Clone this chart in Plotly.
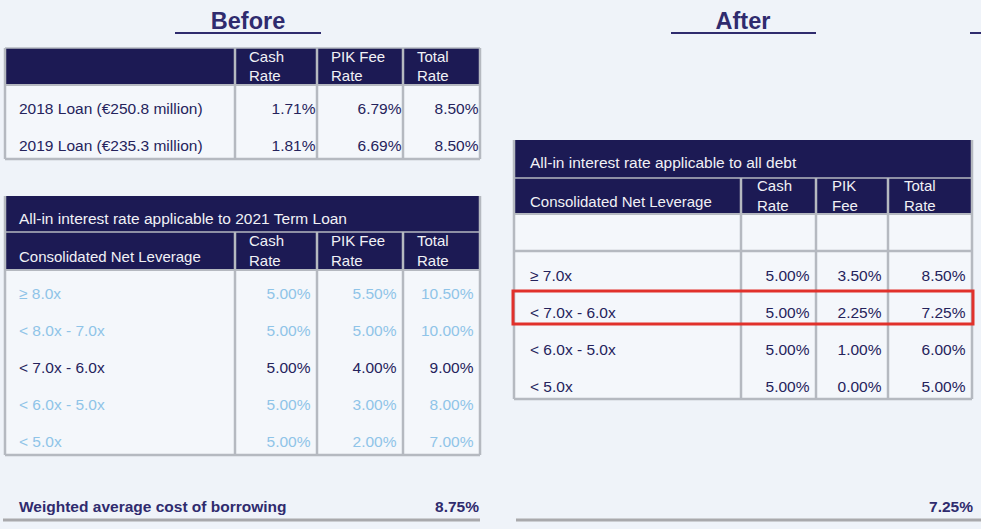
import plotly.graph_objects as go

W, H = 981, 529

# ---------------- data ----------------
loan_headers = ["", "Cash\nRate", "PIK Fee\nRate", "Total\nRate"]
loan_labels = ["2018 Loan (€250.8 million)", "2019 Loan (€235.3 million)"]
loan_cash = ["1.71%", "1.81%"]
loan_pik = ["6.79%", "6.69%"]
loan_total = ["8.50%", "8.50%"]

before_title = "All-in interest rate applicable to 2021 Term Loan"
before_headers = ["Consolidated Net Leverage", "Cash\nRate", "PIK Fee\nRate", "Total\nRate"]
before_lev = ["≥ 8.0x", "< 8.0x - 7.0x", "< 7.0x - 6.0x", "< 6.0x - 5.0x", "< 5.0x"]
before_cash = ["5.00%", "5.00%", "5.00%", "5.00%", "5.00%"]
before_pik = ["5.50%", "5.00%", "4.00%", "3.00%", "2.00%"]
before_total = ["10.50%", "10.00%", "9.00%", "8.00%", "7.00%"]
before_active = 2

after_title = "All-in interest rate applicable to all debt"
after_headers = ["Consolidated Net Leverage", "Cash\nRate", "PIK\nFee", "Total\nRate"]
after_lev = ["", "≥ 7.0x", "< 7.0x - 6.0x", "< 6.0x - 5.0x", "< 5.0x"]
after_cash = ["", "5.00%", "5.00%", "5.00%", "5.00%"]
after_pik = ["", "3.50%", "2.25%", "1.00%", "0.00%"]
after_total = ["", "8.50%", "7.25%", "6.00%", "5.00%"]
after_highlight = 2

wacb_label = "Weighted average cost of borrowing"
wacb_before = "8.75%"
wacb_after = "7.25%"

# ---------------- style ----------------
BG = "#eff3f9"
CELL = "#f4f7fb"
NAVY = "#1c1a54"
GRID = "#b5b9c0"
DARK = "#25235c"
LIGHT = "#8fc4e8"
HEAD_TXT = "#f1f1f6"
TITLE = "#2f2b6e"
FONT = "Liberation Sans, Arial, sans-serif"
FS = 15.5
HFS = 15
ROW = 37

fig = go.Figure()


def rect(x0, x1, y0, y1, fill, layer="below"):
    fig.add_shape(type="rect", xref="x", yref="y", x0=x0, x1=x1, y0=y0, y1=y1,
                  fillcolor=fill, line=dict(width=0), layer=layer)


def line(x0, x1, y0, y1, color=GRID, width=2.5, layer="below"):
    fig.add_shape(type="line", xref="x", yref="y", x0=x0, x1=x1, y0=y0, y1=y1,
                  line=dict(color=color, width=width), layer=layer)


def text(xs, ys, txt, pos, color, size=FS, bold=False):
    fig.add_trace(go.Scatter(
        x=xs, y=ys, mode="text", text=[("<b>%s</b>" % t) if bold else t for t in txt],
        textposition=pos, hoverinfo="skip",
        textfont=dict(family=FONT, size=size, color=color)))


def draw_table(bounds, top, title, headers, columns, colors, lpad, npad,
               hdr_pad, title_h=36, hdr_h=37, row_offset=25, rule_after=None):
    x0, x1 = bounds[0], bounds[-1]
    y = top
    if title is not None:
        rect(x0, x1, y, y + title_h, NAVY)
        text([x0 + lpad], [y + 24], [title], "middle right", HEAD_TXT)
        y += title_h
    # header
    hy0 = y
    rect(x0, x1, hy0, hy0 + hdr_h, NAVY)
    cy = hy0 + hdr_h / 2
    for j, h in enumerate(headers):
        if not h:
            continue
        parts = h.split("\n")
        if j == 0:
            text([bounds[0] + lpad], [cy + 7], [h], "middle right", HEAD_TXT, size=HFS)
        else:
            text([bounds[j] + hdr_pad], [cy + 1], ["<br>".join(parts)], "middle right",
                 HEAD_TXT, size=HFS)
    y += hdr_h
    by0 = y
    nrows = len(columns[0])
    by1 = by0 + nrows * ROW
    rect(x0, x1, by0, by1, CELL)
    # body text
    for j, col in enumerate(columns):
        ys = [by0 + i * ROW + row_offset for i in range(nrows)]
        if j == 0:
            text([bounds[0] + lpad] * nrows, ys, col, "middle right", colors)
        else:
            text([bounds[j + 1] - npad] * nrows, ys, col, "middle left", colors)
    # grid
    for xb in bounds[1:-1]:
        line(xb, xb, hy0, by1)
    line(x0, x0, hy0 if title is None else top, by1)
    line(x1, x1, hy0 if title is None else top, by1)
    line(x0, x1, by1, by1)
    line(x0, x1, hy0, hy0, width=1.5)
    line(x0, x1, by0, by0, width=2)
    if rule_after is not None:
        ry = by0 + rule_after * ROW
        line(x0, x1, ry, ry)
    return by0


left_bounds = [5, 235, 317, 403, 480]
right_bounds = [514, 741, 816, 888, 972]

# Table 1 (Before loans)
draw_table(left_bounds, 48, None, loan_headers,
           [loan_labels, loan_cash, loan_pik, loan_total], DARK,
           lpad=14, npad=1.5, hdr_pad=14, row_offset=25)

# Table 2 (Before term loan grid)
col2 = [DARK if i == before_active else LIGHT for i in range(len(before_lev))]
draw_table(left_bounds, 196, before_title, before_headers,
           [before_lev, before_cash, before_pik, before_total], col2,
           lpad=14, npad=6.5, hdr_pad=14, title_h=36, hdr_h=38, row_offset=25)

# Table 3 (After)
body3 = draw_table(right_bounds, 140, after_title, after_headers,
                   [after_lev, after_cash, after_pik, after_total], DARK,
                   lpad=16, npad=6.5, hdr_pad=16, title_h=38, hdr_h=36,
                   row_offset=26, rule_after=1)

# highlight of applicable row
hy = body3 + after_highlight * ROW
fig.add_shape(type="rect", xref="x", yref="y", x0=right_bounds[0] - 1, x1=right_bounds[-1] + 1,
              y0=hy + 3, y1=hy + ROW - 1, line=dict(color="#e1312b", width=3),
              fillcolor="rgba(0,0,0,0)", layer="above")

# Section titles
for txt, cx, u0, u1 in [("Before", 248, 175, 321), ("After", 743, 671, 816)]:
    text([cx], [23], [txt], "middle center", TITLE, size=23.5, bold=True)
    line(u0, u1, 33, 33, color=TITLE, width=2)
line(970, 981, 33, 33, color=TITLE, width=2)

# Footer
text([19], [508], [wacb_label], "middle right", TITLE, size=15.5, bold=True)
text([479], [508], [wacb_before], "middle left", TITLE, size=15.5, bold=True)
text([973], [508], [wacb_after], "middle left", TITLE, size=15.5, bold=True)
line(3, 480, 520, 520, color="#a9a9ac", width=3)
line(516, 981, 520, 520, color="#a9a9ac", width=3)

fig.update_layout(
    width=W, height=H, margin=dict(l=0, r=0, t=0, b=0, pad=0),
    paper_bgcolor=BG, plot_bgcolor=BG, showlegend=False, autosize=False,
    xaxis=dict(range=[0, W], visible=False, fixedrange=True),
    yaxis=dict(range=[H, 0], visible=False, fixedrange=True),
)

fig.write_html("out.html", post_script="document.body.style.margin='0';",
               config={"displayModeBar": False})
